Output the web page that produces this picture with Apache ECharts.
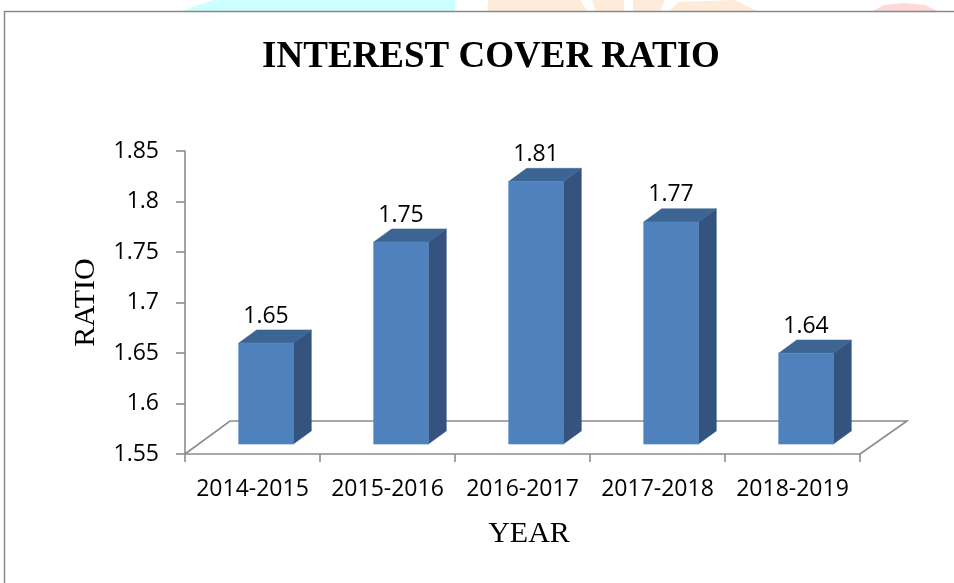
<!DOCTYPE html>
<html>
<head>
<meta charset="utf-8">
<script src="https://cdn.jsdelivr.net/npm/echarts@6/dist/echarts.min.js"></script>
<style>
html,body{margin:0;padding:0;background:#fff;}
#chart{width:954px;height:583px;}
</style>
</head>
<body>
<div id="chart"></div>
<script>
const categories = ['2014-2015', '2015-2016', '2016-2017', '2017-2018', '2018-2019'];
const ratioValues = [1.65, 1.75, 1.81, 1.77, 1.64];
const yMin = 1.55, yMax = 1.85, yInterval = 0.05;

const chart = echarts.init(document.getElementById('chart'), null, {renderer: 'canvas'});

const numFont = '"Open Sans", "Noto Sans", sans-serif';
const serifFont = '"Liberation Serif", "Times New Roman", serif';

function renderBar(params, api) {
  const cat = api.value(0), v = api.value(1);
  const top = api.coord([cat, v]);
  const base = api.coord([cat, yMin]);
  const bw = api.size([1, 0])[0];
  const depthX = bw / 3, depthY = 33;
  const fx = depthX * 0.3, fy = depthY * 0.3;
  const sx = depthX * 0.4, sy = depthY * 0.4;
  const fw = bw * 0.405;
  const cx = top[0] + fx;
  const x0 = cx - fw / 2, x1 = cx + fw / 2;
  const yt = top[1] - fy, yb = base[1] - fy;
  return {
    type: 'group',
    children: [
      {type: 'polygon', shape: {points: [[x1, yt], [x1 + sx, yt - sy], [x1 + sx, yb - sy], [x1, yb]]},
        style: {fill: '#34547F', stroke: '#34547F', lineWidth: 0.5}},
      {type: 'polygon', shape: {points: [[x0, yt], [x0 + sx, yt - sy], [x1 + sx, yt - sy], [x1, yt]]},
        style: {fill: '#3D6594', stroke: '#3D6594', lineWidth: 0.5}},
      {type: 'rect', shape: {x: x0, y: yt, width: fw, height: yb - yt},
        style: {fill: '#4F81BD', stroke: '#5A8AC4', lineWidth: 0.6}},
      {type: 'text', x: cx, y: yt - 27,
        style: {text: String(v), font: '23px ' + numFont, fill: '#000', align: 'center', verticalAlign: 'middle'}}
    ]
  };
}

function renderFloor(params, api) {
  const n = categories.length;
  const bw = api.size([1, 0])[0];
  const left = api.coord([0, yMin]);
  const right = api.coord([n - 1, yMin]);
  const xl = left[0] - bw / 2, xr = right[0] + bw / 2, y0 = left[1];
  const dx = bw / 3, dy = 33;
  return {
    type: 'polyline',
    shape: {points: [[xl, y0], [xl + dx, y0 - dy], [xr + dx + 2, y0 - dy], [xr, y0]]},
    style: {stroke: '#8C8C8C', lineWidth: 1.6, fill: null}
  };
}

const option = {
  backgroundColor: '#fff',
  animation: false,
  title: {
    text: 'INTEREST COVER RATIO',
    left: 486, top: 34, textAlign: 'center',
    textStyle: {fontFamily: serifFont, fontWeight: 'bold', fontSize: 37, color: '#000'}
  },
  graphic: [
    {type: 'polygon', shape: {points: [[183, 11], [198, 5], [214, 0], [455, 0], [455, 11]]}, style: {fill: '#CCFFFF'}, silent: true},
    {type: 'polygon', shape: {points: [[488, 11], [488, 0], [580, 0], [587, 11]]}, style: {fill: '#FFEBD9'}, silent: true},
    {type: 'polygon', shape: {points: [[596, 11], [592, 0], [624, 0], [624, 11]]}, style: {fill: '#FFEBD9'}, silent: true},
    {type: 'polygon', shape: {points: [[633, 11], [633, 0], [665, 0], [660, 11]]}, style: {fill: '#FFEBD9'}, silent: true},
    {type: 'polygon', shape: {points: [[670, 11], [678, 2], [735, 0], [757, 11]]}, style: {fill: '#FFEBD9'}, silent: true},
    {type: 'polygon', shape: {points: [[873, 11], [884, 5], [903, 3], [925, 5], [937, 11]]}, style: {fill: '#FFD9D9'}, silent: true},
    {type: 'rect', shape: {x: 4.5, y: 11.5, width: 1000, height: 700}, style: {fill: null, stroke: '#888888', lineWidth: 1.5}, silent: true, z: 10}
  ],
  grid: {left: 185, right: 94, top: 151, bottom: 129},
  xAxis: {
    type: 'category',
    data: categories,
    boundaryGap: true,
    name: 'YEAR',
    nameLocation: 'middle',
    nameGap: 65,
    nameTextStyle: {fontFamily: serifFont, fontSize: 30, color: '#000', padding: [0, 0, 0, 13]},
    axisLine: {lineStyle: {color: '#8C8C8C', width: 1.6}},
    axisTick: {show: true, interval: 0, length: 8, lineStyle: {color: '#8C8C8C', width: 1.6}},
    axisLabel: {interval: 0, fontFamily: numFont, fontSize: 23, color: '#000', margin: 24},
    splitLine: {show: false}
  },
  yAxis: {
    type: 'value',
    min: yMin, max: yMax, interval: yInterval,
    name: 'RATIO',
    nameLocation: 'middle',
    nameGap: 84,
    nameTextStyle: {fontFamily: serifFont, fontSize: 30, color: '#000'},
    axisLine: {show: true, lineStyle: {color: '#8C8C8C', width: 1.6}},
    axisTick: {show: true, length: 9, lineStyle: {color: '#8C8C8C', width: 1.6}},
    axisLabel: {fontFamily: numFont, fontSize: 23, color: '#000', margin: 26},
    splitLine: {show: false}
  },
  series: [
    {type: 'custom', name: 'floor', renderItem: renderFloor, data: [[0, yMin]], encode: {x: 0, y: 1}, z: 1, silent: true},
    {type: 'custom', name: 'Interest cover ratio', renderItem: renderBar,
      data: categories.map((c, i) => [i, ratioValues[i]]), encode: {x: 0, y: 1}, z: 5}
  ]
};
chart.setOption(option);
</script>
</body>
</html>
